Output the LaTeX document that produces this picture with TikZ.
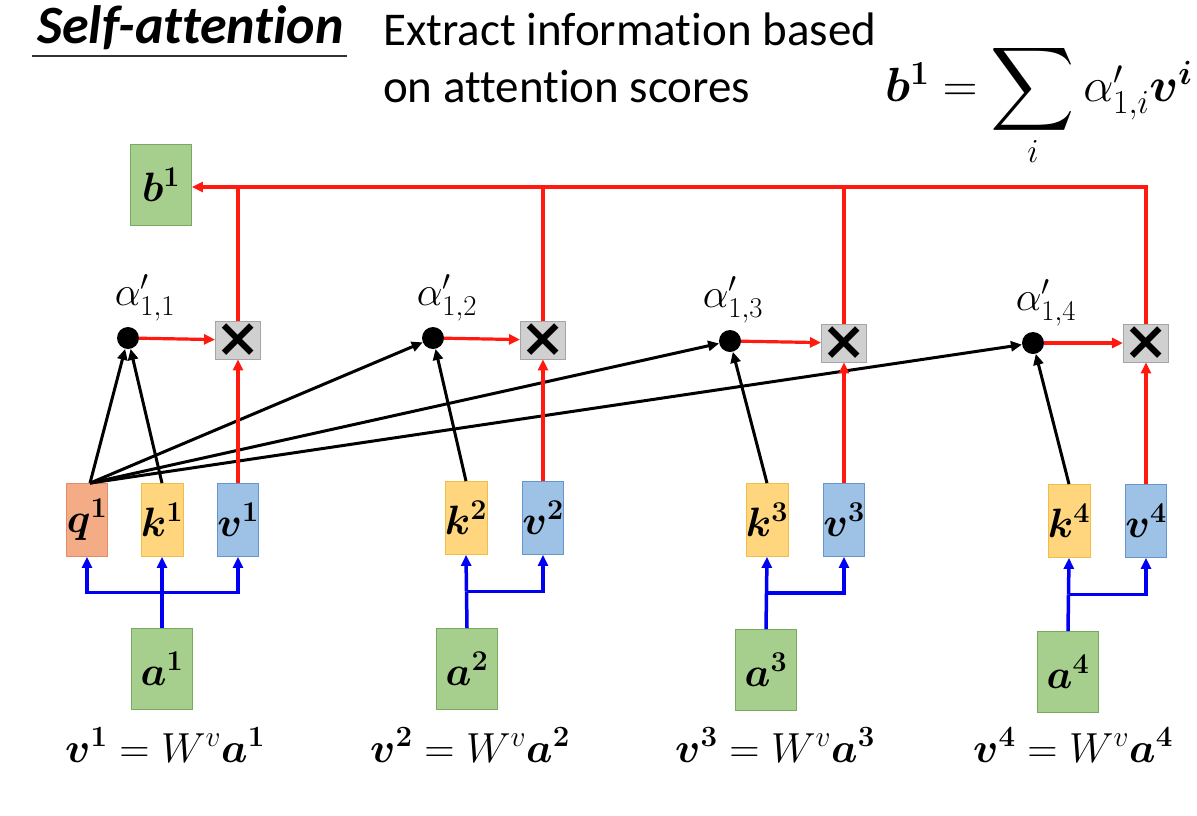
\RequirePackage{fix-cm}
\documentclass[tikz,border=0pt]{standalone}
\usepackage{amsmath}
\usepackage{graphicx}
\usepackage{bm}
\usepackage{fontspec}
\setsansfont{Carlito}[Ligatures=NoCommon]
\newfontfamily\djv{DejaVu Sans}
\usetikzlibrary{arrows.meta,calc}
\newcommand{\BigSum}{\mathop{\vcenter{\hbox{\scalebox{2.35}{$\displaystyle\sum$}}}}\limits}
\definecolor{gfill}{RGB}{166,206,140}
\definecolor{gdraw}{RGB}{120,170,95}
\definecolor{qfill}{RGB}{244,172,135}
\definecolor{qdraw}{RGB}{225,140,100}
\definecolor{kfill}{RGB}{255,214,125}
\definecolor{kdraw}{RGB}{240,190,70}
\definecolor{vfill}{RGB}{157,194,230}
\definecolor{vdraw}{RGB}{100,150,205}
\definecolor{xfill}{RGB}{208,208,208}
\definecolor{xdraw}{RGB}{165,165,165}
\definecolor{myred}{RGB}{255,25,15}
\definecolor{myblue}{RGB}{0,0,245}
\begin{document}
\begin{tikzpicture}[x=1pt,y=-1pt,
  mfont/.style={font=\fontsize{41}{44}\selectfont},
  vecbox/.style={draw, line width=0.8pt, minimum width=40pt, minimum height=73pt, inner sep=0pt, mfont},
  qbox/.style={vecbox, fill=qfill, draw=qdraw},
  kbox/.style={vecbox, fill=kfill, draw=kdraw},
  vbox/.style={vecbox, fill=vfill, draw=vdraw},
  gbox/.style={draw=gdraw, fill=gfill, line width=0.8pt, minimum width=61pt, minimum height=81pt, inner sep=0pt, mfont},
  mulbox/.style={draw=xdraw, fill=xfill, line width=0.8pt, minimum size=38pt, inner sep=0pt, font=\djv\bfseries\fontsize{54}{54}\selectfont},
  dot/.style={circle, fill=black, minimum size=22pt, inner sep=0pt},
  tip/.style={-{Triangle[length=11pt,width=10pt]}},
  redline/.style={draw=myred, line width=3.2pt},
  blueline/.style={draw=myblue, line width=3.5pt},
  blackline/.style={draw=black, line width=3pt},
  alab/.style={font=\fontsize{41}{44}\selectfont, inner sep=0pt},
  eqlab/.style={font=\fontsize{42}{44}\selectfont, inner sep=0pt}
]
\useasboundingbox (0,0) rectangle (1197,815);

% title and description
\node[anchor=base west, inner sep=0pt, font=\sffamily\bfseries\itshape\fontsize{54}{58}\selectfont] (title) at (37,43) {Self-attention};
\draw[line width=1.6pt, draw=black!80] ([yshift=-13pt,xshift=-5pt]title.base west) -- ([yshift=-13pt,xshift=3pt]title.base east);
\node[anchor=base west, inner sep=0pt, font=\sffamily\fontsize{47}{50}\selectfont] (desc1) at (383,45) {Extract information based};
\node[anchor=base west, inner sep=0pt, font=\sffamily\fontsize{47}{50}\selectfont] (desc2) at (383,102) {on attention scores};
\node[anchor=west, font=\fontsize{48}{52}\selectfont, inner sep=0pt] (formula) at (885,104) {$\bm{b}^{\bm{1}} = \BigSum_{i} \alpha'_{1,i}\bm{v}^{\bm{i}}$};

% vectors
\node[qbox] (q1) at (87,520) {$\bm{q}^{\bm{1}}$};
\node[kbox] (k1) at (162,520) {$\bm{k}^{\bm{1}}$};
\node[vbox] (v1) at (238,520) {$\bm{v}^{\bm{1}}$};
\node[kbox] (k2) at (466,518) {$\bm{k}^{\bm{2}}$};
\node[vbox] (v2) at (543,518) {$\bm{v}^{\bm{2}}$};
\node[kbox] (k3) at (767,520) {$\bm{k}^{\bm{3}}$};
\node[vbox] (v3) at (844,520) {$\bm{v}^{\bm{3}}$};
\node[kbox] (k4) at (1069,521) {$\bm{k}^{\bm{4}}$};
\node[vbox] (v4) at (1146,521) {$\bm{v}^{\bm{4}}$};

% inputs
\node[gbox] (a1) at (162,669) {$\bm{a}^{\bm{1}}$};
\node[gbox] (a2) at (467,669) {$\bm{a}^{\bm{2}}$};
\node[gbox] (a3) at (766,670) {$\bm{a}^{\bm{3}}$};
\node[gbox] (a4) at (1068,672) {$\bm{a}^{\bm{4}}$};

% output
\node[gbox] (b1) at (161,185) {$\bm{b}^{\bm{1}}$};

% multiply boxes
\node[mulbox] (m1) at (238,340) {×};
\node[mulbox] (m2) at (543,340) {×};
\node[mulbox] (m3) at (844,343) {×};
\node[mulbox] (m4) at (1146,343) {×};

% attention score dots
\node[dot] (d1) at (128,338) {};
\node[dot] (d2) at (433,338) {};
\node[dot] (d3) at (730,341) {};
\node[dot] (d4) at (1033,343) {};
\node[alab] (l1) at (145,298) {$\alpha'_{1,1}$};
\node[alab] (l2) at (447,298) {$\alpha'_{1,2}$};
\node[alab] (l3) at (733,300) {$\alpha'_{1,3}$};
\node[alab] (l4) at (1046,303) {$\alpha'_{1,4}$};

% bottom equations
\node[eqlab] (e1) at (165,745) {$\bm{v}^{\bm{1}} = W^{v}\bm{a}^{\bm{1}}$};
\node[eqlab] (e2) at (470,745) {$\bm{v}^{\bm{2}} = W^{v}\bm{a}^{\bm{2}}$};
\node[eqlab] (e3) at (775,745) {$\bm{v}^{\bm{3}} = W^{v}\bm{a}^{\bm{3}}$};
\node[eqlab] (e4) at (1073,745) {$\bm{v}^{\bm{4}} = W^{v}\bm{a}^{\bm{4}}$};

% blue connections
\coordinate (j1) at ($(a1.north)!0.5!(k1.south)$);
\coordinate (j2) at ($(a2.north)!0.5!(k2.south)$);
\coordinate (j3) at ($(a3.north)!0.5!(k3.south)$);
\coordinate (j4) at ($(a4.north)!0.5!(k4.south)$);
\draw[blueline] (a1.north) -- (j1);
\draw[blueline, tip] (j1) -- (k1.south);
\draw[blueline, tip] (j1) -| (q1.south);
\draw[blueline, tip] (j1) -| (v1.south);
\foreach \i in {2,3,4}{
  \draw[blueline] (a\i.north) -- (j\i);
  \draw[blueline, tip] (j\i) -- (k\i.south);
  \draw[blueline, tip] (j\i) -| (v\i.south);
}

% black connections (q1 and keys to scores)
\coordinate (qs) at ([xshift=3pt]q1.north);
\draw[blackline, tip] (qs) -- (d1);
\draw[blackline, tip] (k1.north) -- (d1);
\draw[blackline, tip] (qs) -- (d2);
\draw[blackline, tip] (qs) -- (d3);
\draw[blackline, tip] (qs) -- (d4);
\draw[blackline, tip] (k2.north) -- (d2);
\draw[blackline, tip] (k3.north) -- (d3);
\draw[blackline, tip] (k4.north) -- (d4);

% red connections
\coordinate (top) at ([yshift=-2pt]b1.east);
\foreach \i in {1,2,3,4}{
  \draw[redline, tip] (d\i) -- (m\i);
  \draw[redline, tip] (v\i.north) -- (m\i.south);
}
\draw[redline, tip] (m4.north) |- (top);
\foreach \i in {1,2,3}{
  \draw[redline] (m\i.north) -- (m\i.north |- top);
}
\end{tikzpicture}
\end{document}
